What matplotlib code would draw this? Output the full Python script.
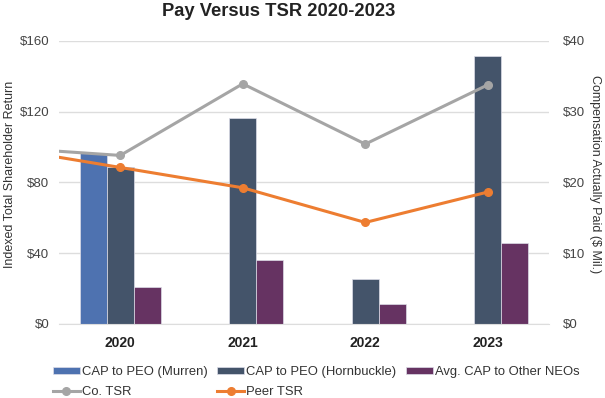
import numpy as np
import matplotlib.pyplot as plt

plt.rcParams['font.family'] = ['Liberation Sans', 'DejaVu Sans']

years = ['2020', '2021', '2022', '2023']
cap_murren = [24.1, np.nan, np.nan, np.nan]
cap_hornbuckle = [22.2, 29.1, 6.4, 37.9]
cap_other_neos = [5.2, 9.1, 2.8, 11.4]

# TSR series start from the $100 base year (2019), which sits just off the left edge
tsr_pos = [-1, 0, 1, 2, 3]
co_tsr = [100, 95.3, 135.8, 101.7, 135.2]
peer_tsr = [100, 88.5, 77.0, 57.4, 74.6]

c_murren = '#4E72B0'
c_horn = '#44546A'
c_neo = '#663362'
c_co = '#A5A5A5'
c_peer = '#ED7D31'

fig = plt.figure(figsize=(6.05, 3.98), dpi=100)
ax = fig.add_axes([0.0975, 0.186, 0.81, 0.711])
ax2 = ax.twinx()

x = np.arange(len(years))
w = 0.22
b1 = ax.bar(x - w, cap_murren, w, color=c_murren, edgecolor='#DDDDE8', linewidth=0.5)
b2 = ax.bar(x, cap_hornbuckle, w, color=c_horn, edgecolor='#DDDDE8', linewidth=0.5)
b3 = ax.bar(x + w, cap_other_neos, w, color=c_neo, edgecolor='#DDDDE8', linewidth=0.5)
ax.set_ylim(0, 40)
ax.set_yticks([0, 10, 20, 30, 40])
ax.set_yticklabels(['$0', '$10', '$20', '$30', '$40'])
ax.set_xlim(-0.5, 3.5)
ax.set_xticks(x)
ax.set_xticklabels(years, fontweight='bold', fontsize=10, color='#222222')
ax.grid(axis='y', color='#DDDDDD', linewidth=1)
ax.set_axisbelow(True)

l1, = ax2.plot(tsr_pos, co_tsr, color=c_co, lw=2.2, marker='o', ms=5.5)
l2, = ax2.plot(tsr_pos, peer_tsr, color=c_peer, lw=2.2, marker='o', ms=5.5)
ax2.set_ylim(0, 160)
ax2.set_yticks([0, 40, 80, 120, 160])
ax2.set_yticklabels(['$0', '$40', '$80', '$120', '$160'])
ax2.set_xlim(-0.5, 3.5)

# lines on top, but TSR scale on the left and CAP scale on the right
ax.yaxis.tick_right()
ax.yaxis.set_label_position('right')
ax2.yaxis.tick_left()
ax2.yaxis.set_label_position('left')
ax.set_ylabel('Compensation Actually Paid ($ Mil.)', rotation=270,
              fontsize=9, color='#333333', va='center')
ax.yaxis.set_label_coords(1.094, 0.53)
ax2.set_ylabel('Indexed Total Shareholder Return', fontsize=9, color='#333333', va='center')
ax2.yaxis.set_label_coords(-0.1, 0.53)

for a in (ax, ax2):
    for s in a.spines.values():
        s.set_visible(False)
    a.tick_params(length=0, labelsize=9.5, colors='#444444')
ax.tick_params(axis='y', pad=10)
ax2.tick_params(axis='y', pad=7)
ax.tick_params(axis='x', pad=9, labelsize=10, colors='#222222')
ax.spines['bottom'].set_visible(True)
ax.spines['bottom'].set_color('#DDDDDD')

fig.text(0.46, 0.97, 'Pay Versus TSR 2020-2023', ha='center', va='center',
         fontsize=13.2, fontweight='bold', color='#222222')

handles = [b1, l1, b2, l2, b3]
labels = ['CAP to PEO (Murren)', 'Co. TSR', 'CAP to PEO (Hornbuckle)', 'Peer TSR',
          'Avg. CAP to Other NEOs']
fig.legend(handles, labels, ncol=3, loc='lower left', bbox_to_anchor=(0.068, -0.03),
           frameon=False, fontsize=9.4, handlelength=2.05, handleheight=0.55,
           columnspacing=0.75, handletextpad=0.15, labelspacing=0.62, labelcolor='#333333')

fig.savefig('out.png', dpi=100)
